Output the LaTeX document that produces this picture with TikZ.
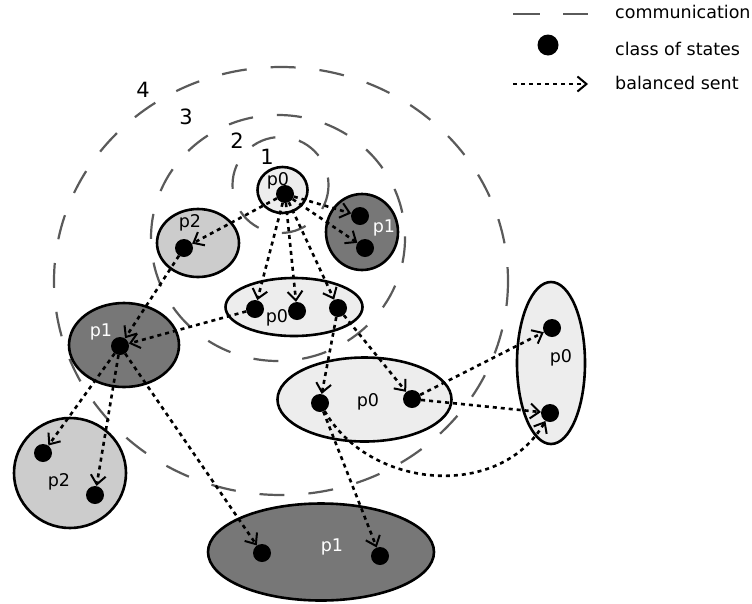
\documentclass[tikz,border=0pt]{standalone}
\usepackage{fontspec}
\setmainfont{DejaVu Sans}
\usetikzlibrary{shapes.geometric,arrows.meta}
\definecolor{ringgray}{HTML}{5A5A5A}
\definecolor{setlight}{HTML}{EDEDED}
\definecolor{setmid}{HTML}{CCCCCC}
\definecolor{setdark}{HTML}{777777}
\begin{document}
\begin{tikzpicture}[x=1pt,y=-1pt,
  ring/.style={draw=ringgray,line width=2.2pt,dash pattern=on 25pt off 24pt},
  set/.style={ellipse,draw,line width=2.6pt,inner sep=0pt},
  pzero/.style={set,fill=setlight},
  pone/.style={set,fill=setdark},
  ptwo/.style={set,fill=setmid},
  dot/.style={circle,fill=black,inner sep=0pt,minimum size=18pt},
  sent/.style={line width=2.6pt,dash pattern=on 4pt off 4pt,-{Straight Barb[length=9pt,width=15pt,line width=2pt]}},
  lab/.style={font=\fontsize{17.5}{20}\selectfont,inner sep=0pt},
  num/.style={font=\fontsize{21}{25}\selectfont,inner sep=0pt}]
  \useasboundingbox (0,0) rectangle (752,603);
  % rings
  \draw[ring] (280.5,185) circle[radius=48];
  \draw[ring] (278,238) ellipse[x radius=127,y radius=123];
  \draw[ring] (281,281) ellipse[x radius=227,y radius=214];
  \node[num] (n1) at (267,157) {1};
  \node[num] (n2) at (237,141) {2};
  \node[num] (n3) at (186,117) {3};
  \node[num] (n4) at (143,90) {4};
  % sets
  \node[pzero,minimum width=50pt,minimum height=46pt] (s0) at (282.5,190) {};
  \node[ptwo,minimum width=82pt,minimum height=68pt] (s2) at (198,243) {};
  \node[pone,minimum width=72pt,minimum height=76pt] (s1) at (362,232) {};
  \node[pzero,minimum width=137pt,minimum height=58pt] (m0) at (294,307) {};
  \node[pone,minimum width=110pt,minimum height=84pt] (l1) at (124,345) {};
  \node[pzero,minimum width=174pt,minimum height=84pt] (w0) at (364.5,399.5) {};
  \node[ptwo,minimum width=112pt,minimum height=110pt] (l2) at (70,473) {};
  \node[pone,minimum width=226pt,minimum height=97pt] (b1) at (321,552) {};
  \node[pzero,minimum width=68pt,minimum height=162pt] (v0) at (551,363) {};
  \node[lab] (ts0) at (278,181) {p0};
  \node[lab] (ts2) at (190,223) {p2};
  \node[lab,white] (ts1) at (384,228) {p1};
  \node[lab] (tm0) at (277,318) {p0};
  \node[lab,white] (tl1) at (101,332) {p1};
  \node[lab] (tw0) at (368,402) {p0};
  \node[lab] (tl2) at (59,482) {p2};
  \node[lab,white] (tb1) at (332,547) {p1};
  \node[lab] (tv0) at (561,358) {p0};
  % classes
  \node[dot] (top) at (285,194) {};
  \node[dot] (twoa) at (184,248) {};
  \node[dot] (onea) at (360,216) {};
  \node[dot] (oneb) at (365,248) {};
  \node[dot] (mida) at (255,309) {};
  \node[dot] (midb) at (297,311) {};
  \node[dot] (midc) at (338,308) {};
  \node[dot] (left) at (120,346) {};
  \node[dot] (lowa) at (320,403) {};
  \node[dot] (lowb) at (412,399) {};
  \node[dot] (farc) at (43,453) {};
  \node[dot] (fard) at (95,495) {};
  \node[dot] (bota) at (262,553) {};
  \node[dot] (botb) at (380,556) {};
  \node[dot] (verta) at (552,328) {};
  \node[dot] (vertb) at (550,413) {};
  % sent
  \draw[sent] (top)--(twoa);
  \draw[sent] (top)--(onea);
  \draw[sent] (top)--(oneb);
  \draw[sent] (top)--(mida);
  \draw[sent] (top)--(midb);
  \draw[sent] (top)--(midc);
  \draw[sent] (twoa)--(left);
  \draw[sent] (mida)--(left);
  \draw[sent] (midc)--(lowa);
  \draw[sent] (midc)--(lowb);
  \draw[sent] (lowb)--(verta);
  \draw[sent] (lowb)--(vertb);
  \draw[sent] (lowa) .. controls (370,490) and (500,500) .. (vertb);
  \draw[sent] (lowa)--(botb);
  \draw[sent] (left)--(farc);
  \draw[sent] (left)--(fard);
  \draw[sent] (left)--(bota);
  % legend
  \coordinate (ka) at (513,14);
  \coordinate (kb) at (588,14);
  \draw[ring,dash pattern=on 27pt off 23pt] (ka)--(kb);
  \node[dot,minimum size=21pt] (kd) at (548,45) {};
  \coordinate (kc) at (513,84);
  \coordinate (ke) at (588,84);
  \draw[sent] (kc)--(ke);
  \node[lab,anchor=base west] (k1) at (615,18.5) {communication};
  \node[lab,anchor=base west] (k2) at (615,55) {class of states};
  \node[lab,anchor=base west] (k3) at (615,89) {balanced sent};
\end{tikzpicture}
\end{document}
